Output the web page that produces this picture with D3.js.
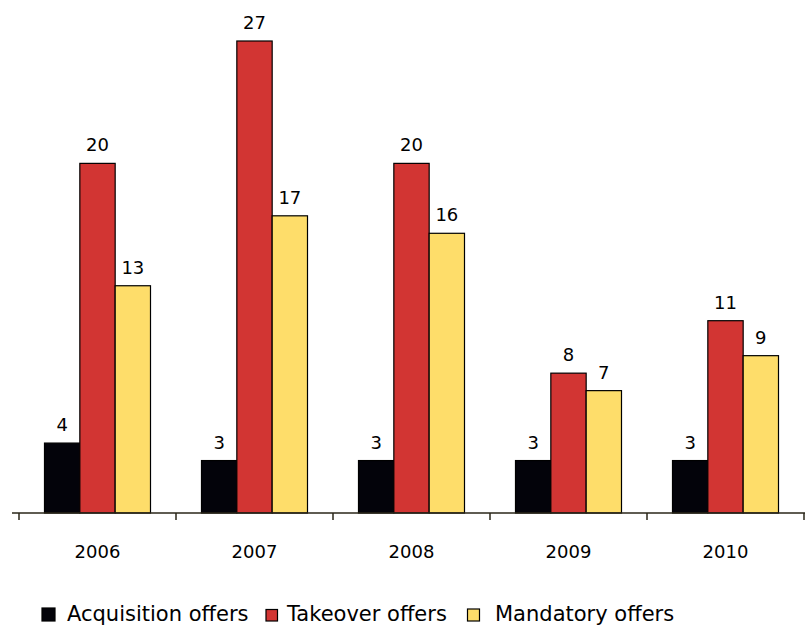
<!DOCTYPE html>
<html>
<head>
<meta charset="utf-8">
<script src="https://cdn.jsdelivr.net/npm/d3@7"></script>
<style>
  html, body { margin: 0; padding: 0; background: #fff; }
  svg { display: block; }
  text { font-family: "DejaVu Sans", Verdana, sans-serif; fill: #000; }
</style>
</head>
<body>
<svg id="chart" width="806" height="626"></svg>
<script>
// Offers by year
const years = ["2006", "2007", "2008", "2009", "2010"];
const seriesNames = ["Acquisition offers", "Takeover offers", "Mandatory offers"];
const acquisition = [4, 3, 3, 3, 3];
const takeover = [20, 27, 20, 8, 11];
const mandatory = [13, 17, 16, 7, 9];
const seriesColors = ["#03030a", "#d23533", "#fedd6a"];

const seriesValues = [acquisition, takeover, mandatory];
const rows = years.map((y, i) => ({
  year: y,
  values: seriesValues.map((vals, s) => ({ s, value: vals[i] }))
}));

const svg = d3.select("#chart");
const baseY = 513;

const x = d3.scaleBand().domain(years).range([19, 804]).padding(0);
const inset = 25.5;
const x1 = d3.scaleBand().domain(d3.range(seriesNames.length))
  .range([inset, x.bandwidth() - inset]).padding(0);
const y = d3.scaleLinear().domain([0, 27]).range([baseY, 41]);

// bars
const groups = svg.append("g").selectAll("g").data(rows).join("g")
  .attr("transform", d => `translate(${x(d.year)},0)`);

groups.selectAll("rect").data(d => d.values).join("rect")
  .attr("x", d => x1(d.s))
  .attr("y", d => y(d.value))
  .attr("width", x1.bandwidth())
  .attr("height", d => baseY - y(d.value))
  .attr("fill", d => seriesColors[d.s])
  .attr("stroke", "#000")
  .attr("stroke-width", 1.2);

// value labels
groups.selectAll("text.val").data(d => d.values).join("text")
  .attr("class", "val")
  .attr("x", d => x1(d.s) + x1.bandwidth() / 2)
  .attr("y", d => y(d.value) - 12)
  .attr("text-anchor", "middle")
  .attr("font-size", 18)
  .text(d => d.value);

// x axis
const gx = svg.append("g").attr("transform", `translate(0,${baseY})`);
gx.append("line").attr("x1", 12).attr("x2", 805).attr("y1", 0).attr("y2", 0)
  .attr("stroke", "#2a2618").attr("stroke-width", 1.5);
gx.selectAll("line.tick").data([...years.map(d => x(d)), x.range()[1]]).join("line")
  .attr("class", "tick")
  .attr("x1", d => d).attr("x2", d => d)
  .attr("y1", 0).attr("y2", 7)
  .attr("stroke", "#2a2618").attr("stroke-width", 1.5);
gx.selectAll("text.yr").data(years).join("text")
  .attr("class", "yr")
  .attr("x", d => x(d) + x.bandwidth() / 2)
  .attr("y", 45)
  .attr("text-anchor", "middle")
  .attr("font-size", 18)
  .text(d => d);

// legend
const legendItems = [
  { name: seriesNames[0], sx: 42, tx: 67, size: 13 },
  { name: seriesNames[1], sx: 266, tx: 287, size: 11.5 },
  { name: seriesNames[2], sx: 467.5, tx: 495, size: 12 }
];
const lg = svg.append("g");
legendItems.forEach((d, i) => {
  lg.append("rect")
    .attr("x", d.sx).attr("y", 621 - d.size)
    .attr("width", d.size).attr("height", d.size)
    .attr("fill", seriesColors[i])
    .attr("stroke", "#000").attr("stroke-width", 1.2);
  lg.append("text")
    .attr("x", d.tx).attr("y", 621)
    .attr("font-size", 21)
    .text(d.name);
});
</script>
</body>
</html>
